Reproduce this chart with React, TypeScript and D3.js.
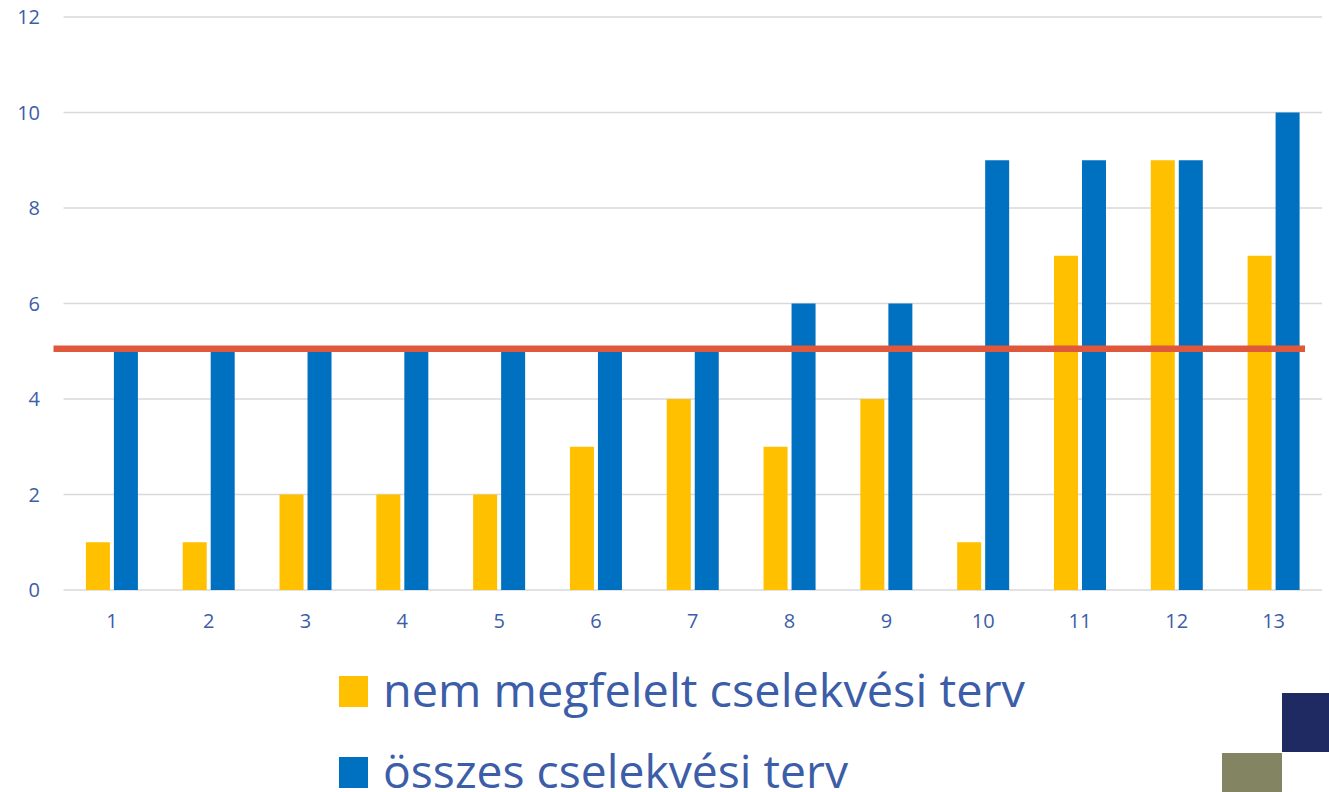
import * as React from "react";
import * as d3 from "d3";

const categories = ["1", "2", "3", "4", "5", "6", "7", "8", "9", "10", "11", "12", "13"];
const nemMegfelelt = [1, 1, 2, 2, 2, 3, 4, 3, 4, 1, 7, 9, 7];
const osszes = [5, 5, 5, 5, 5, 5, 5, 6, 6, 9, 9, 9, 10];
const seriesNames = ["nem megfelelt cselekvési terv", "összes cselekvési terv"];
const yTicks = [0, 2, 4, 6, 8, 10, 12];
const threshold = 5.05;

const colors = ["#FFC000", "#0070C0"];
const labelColor = "#3C5DA8";
const font = "'Open Sans', 'Noto Sans', sans-serif";

export default function App() {
    let width = 1329;
    let height = 792;

    let x = d3.scaleBand().domain(categories).range([63.5, 1322]).padding(0);
    let y = d3.scaleLinear().domain([0, 12]).range([590, 17]);

    // two bars per category, 24px wide with a 4px gap
    let mid = x.bandwidth() / 2;
    let sub = d3.scaleBand().domain(seriesNames).range([mid - 26, mid + 26]).paddingInner(4 / 28);

    let series = [nemMegfelelt, osszes];

    let legendTextLength = [642, 465];
    let legendBaseline = [707, 788];

    return (
        <svg width={width} height={height} style={{ position: "absolute", left: 0, top: 0, background: "#fff" }}>
            {/* gridlines */}
            {yTicks.map(t => (
                <line key={"g" + t} x1={x.range()[0]} x2={x.range()[1]} y1={y(t)} y2={y(t)}
                    stroke="#D9D9D9" strokeWidth={1.6} />
            ))}
            {/* y labels */}
            {yTicks.map(t => (
                <text key={"yl" + t} x={40} y={y(t)} dy="0.36em" textAnchor="end"
                    fontFamily={font} fontSize={20} fill={labelColor}>{t}</text>
            ))}
            {/* bars */}
            {series.map((vals, si) => (
                <g key={"s" + si}>
                    {vals.map((v, i) => (
                        <rect key={i}
                            x={(x(categories[i]) as number) + (sub(seriesNames[si]) as number)}
                            y={y(v)}
                            width={sub.bandwidth()}
                            height={y(0) - y(v)}
                            fill={colors[si]} />
                    ))}
                </g>
            ))}
            {/* x labels */}
            {categories.map(c => (
                <text key={"xl" + c} x={(x(c) as number) + mid} y={628} textAnchor="middle"
                    fontFamily={font} fontSize={20} fill={labelColor}>{c}</text>
            ))}
            {/* threshold line */}
            <line x1={x.range()[0] - 10} x2={x.range()[1] - 17} y1={y(threshold)} y2={y(threshold)}
                stroke="#E0583C" strokeWidth={6.5} />
            {/* legend */}
            {seriesNames.map((name, i) => (
                <g key={"lg" + i}>
                    <rect x={339} y={legendBaseline[i] - 31} width={29} height={31} fill={colors[i]} />
                    <text x={383} y={legendBaseline[i]} fontFamily={font} fontSize={45} fill={labelColor}
                        textLength={legendTextLength[i]} lengthAdjust="spacingAndGlyphs">{name}</text>
                </g>
            ))}
            {/* corner decoration */}
            <rect x={1282} y={693} width={47} height={59} fill="#1F2A63" />
            <rect x={1222} y={753} width={60} height={39} fill="#838562" />
        </svg>
    );
}
